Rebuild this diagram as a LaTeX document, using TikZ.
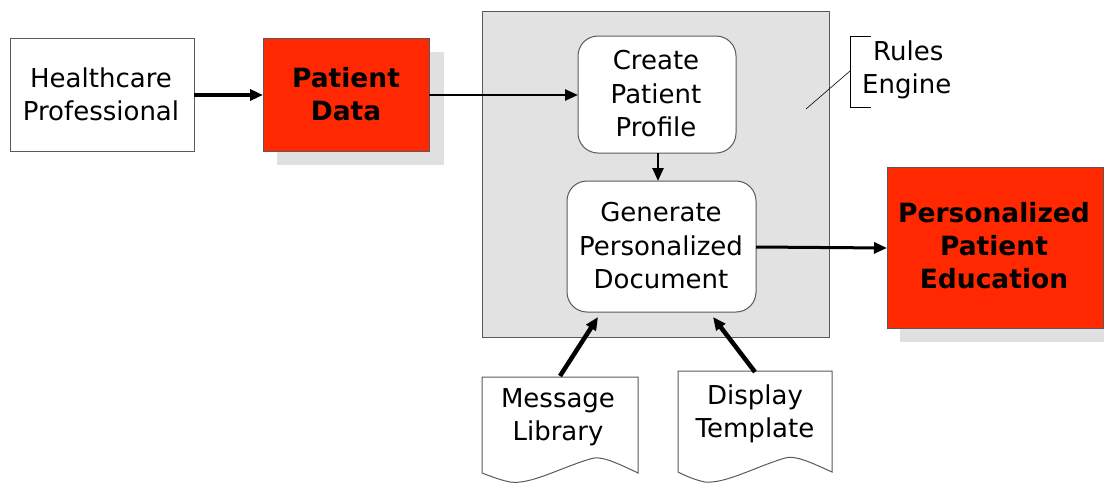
\documentclass[tikz,border=0pt]{standalone}
\usepackage{fontspec}
\setmainfont{DejaVu Sans}
\usetikzlibrary{arrows.meta}
\definecolor{redbox}{RGB}{255,40,0}
\definecolor{shadowgray}{RGB}{224,224,224}
\definecolor{enginegray}{RGB}{226,226,226}
\definecolor{bordergray}{RGB}{90,90,90}
\tikzset{
  txt/.style={font=\fontsize{26}{33.5}\selectfont, align=center, inner sep=0pt},
  btxt/.style={font=\fontsize{26.5}{33}\selectfont\bfseries, align=center, inner sep=0pt},
  plainbox/.style={draw=bordergray, line width=1pt, fill=white},
  redrect/.style={draw=bordergray, line width=1pt, fill=redbox},
  shadow/.style={fill=shadowgray, draw=none},
  roundbox/.style={draw=bordergray, line width=1pt, fill=white, rounded corners=20pt},
  arr/.style={-{Triangle[length=13pt,width=11pt]}, line width=#1},
  arr/.default=3pt,
}
\begin{document}
\begin{tikzpicture}[x=1pt,y=-1pt]
\useasboundingbox (0,0) rectangle (1104,483);
% engine box
\draw[fill=enginegray, draw=bordergray, line width=1pt] (482,11) rectangle (829,337);
% shadows
\fill[shadow] (277,52) rectangle (444,165);
\fill[shadow] (900,180) rectangle (1104,342);
% boxes
\draw[plainbox] (10,38) rectangle (194,151);
\node[txt] (hp) at (101,94.5) {Healthcare\\Professional};
\coordinate (hpE) at (194,95);
\draw[redrect] (263,38) rectangle (429,151);
\node[btxt] (pd) at (346,94.5) {Patient\\Data};
\coordinate (pdW) at (263,95);
\coordinate (pdE) at (429,95);
\draw[roundbox] (578,36) rectangle (736,153);
\node[txt] (cpp) at (656,94) {Create\\Patient\\Profile};
\coordinate (cppW) at (578,95);
\coordinate (cppS) at (658,153);
\draw[roundbox] (567,181) rectangle (756,312);
\node[txt] (gpd) at (661,246) {Generate\\Personalized\\Document};
\coordinate (gpdN) at (658,181);
\coordinate (gpdE) at (756,247);
\coordinate (gpdSL) at (598,317);
\coordinate (gpdSR) at (713,317);
\draw[redrect] (887,167) rectangle (1103,328);
\node[btxt] (ppe) at (994,246) {Personalized\\Patient\\Education};
\coordinate (ppeW) at (887,248);
% documents
\draw[plainbox] (482,377) -- (638,377) -- (638,473)
  .. controls (615,462) and (600,455) .. (590,459)
  .. controls (560,468) and (530,485) .. (510,482)
  .. controls (500,480) and (490,476) .. (482,473) -- cycle;
\node[txt] (ml) at (558,417) {Message\\Library};
\coordinate (mlN) at (560,376);
\draw[plainbox] (678,371) -- (832,371) -- (832,472)
  .. controls (810,462) and (795,455) .. (785,458)
  .. controls (755,467) and (725,484) .. (705,482)
  .. controls (695,480) and (686,476) .. (678,472) -- cycle;
\node[txt] (dt) at (755,414) {Display\\Template};
\coordinate (dtN) at (755,372);
% rules engine label
\node[txt, anchor=west] (re) at (862,70) {\hspace*{3pt}Rules\\Engine};
\draw[black, line width=0.6pt] (871,36) -- (850,36) -- (850,107) -- (871,107);
\coordinate (reL) at (850,71);
\coordinate (reT) at (806,109);
\draw[black, line width=0.6pt] (reL) -- (reT);
% arrows
\draw[arr=4pt] (hpE) -- (pdW);
\draw[arr=2.5pt] (pdE) -- (cppW);
\draw[arr=2.5pt] (cppS) -- (gpdN);
\draw[arr=3pt] (gpdE) -- (ppeW);
\draw[arr=4.5pt] (mlN) -- (gpdSL);
\draw[arr=4.5pt] (dtN) -- (gpdSR);
\end{tikzpicture}
\end{document}
